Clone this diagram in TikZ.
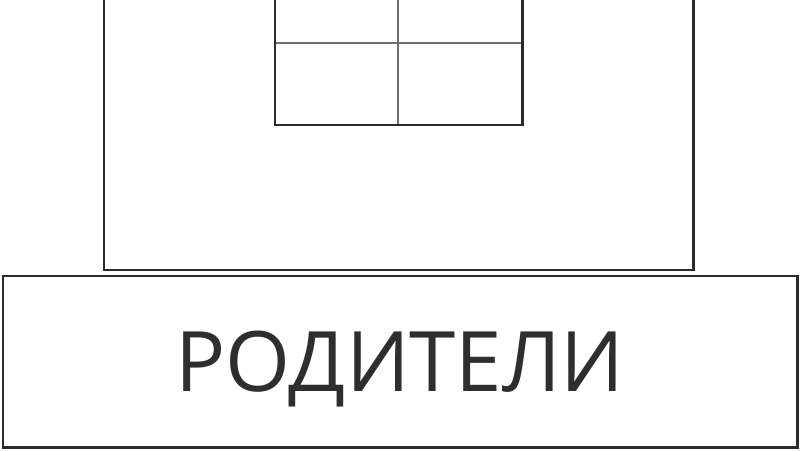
\documentclass[tikz,border=0pt]{standalone}
\usepackage{fontspec}
\setmainfont{Open Sans}
\usetikzlibrary{positioning}
\definecolor{linegray}{HTML}{2B2B2B}
\definecolor{gridgray}{HTML}{6E6E6E}
\definecolor{textgray}{HTML}{2E2E2E}

\begin{document}
\begin{tikzpicture}[
  frame/.style={draw=linegray,line width=1.7pt},
  pane/.style={draw=gridgray,line width=1.6pt},
  label/.style={frame,fill=white,minimum width=15.88cm,minimum height=3.42cm,
    inner sep=0pt,text height=34pt,text depth=0pt,text=textgray,
    font=\fontsize{47.5}{56}\selectfont}
  ]
  \useasboundingbox (0,0) rectangle (16,9);
  \clip (0,0) rectangle (16,9);
  % house
  \draw[frame] (2.08,3.6) rectangle (13.86,9.6);
  % window
  \draw[pane] (7.96,6.5) -- (7.96,9.6);
  \draw[pane] (5.5,8.14) -- (10.44,8.14);
  \draw[frame] (5.5,6.5) rectangle (10.44,9.6);
  % base
  \node[label] (parents) at (8,1.77) {РОДИТЕЛИ};
\end{tikzpicture}
\end{document}
